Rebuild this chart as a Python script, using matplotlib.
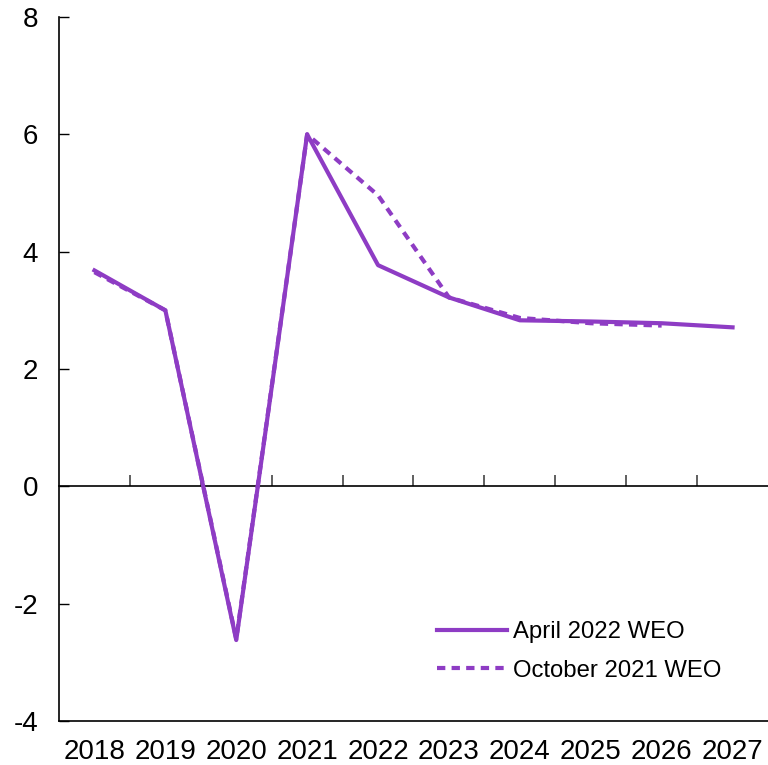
import matplotlib
matplotlib.use("Agg")
import matplotlib.pyplot as plt

years = ["2018", "2019", "2020", "2021", "2022", "2023", "2024", "2025", "2026", "2027"]
april_2022 = [3.68, 3.0, -2.62, 6.0, 3.77, 3.22, 2.83, 2.81, 2.78, 2.71]
october_2021 = [3.65, 3.0, -2.6, 6.0, 4.96, 3.22, 2.87, 2.78, 2.74]
y_ticks = [-4, -2, 0, 2, 4, 6, 8]

color = "#8E3CC4"
plt.rcParams['font.family'] = ['Liberation Sans', 'DejaVu Sans']

fig = plt.figure(figsize=(7.68, 7.65), dpi=100)
ax = fig.add_axes([59/768, 1 - 721/765, 1 - 59/768, (721 - 17)/765])

x_apr = list(range(len(april_2022)))
x_oct = list(range(len(october_2021)))
ax.plot(x_oct, october_2021, color=color, lw=3, dashes=(2, 1.5), label="October 2021 WEO")
ax.plot(x_apr, april_2022, color=color, lw=3, label="April 2022 WEO")

ax.set_xlim(-0.5, len(years) - 0.5)
ax.set_ylim(-4, 8)
ax.set_yticks(y_ticks)
ax.set_yticklabels([str(v) for v in y_ticks])
ax.set_xticks(x_apr)
ax.set_xticklabels(years)

ax.tick_params(axis='x', length=0, pad=13, labelsize=20)
ax.tick_params(axis='y', direction='in', length=7, width=1, pad=15, labelsize=20)
ax.spines['top'].set_visible(False)
ax.spines['right'].set_visible(False)
for s in ['left', 'bottom']:
    ax.spines[s].set_linewidth(1.2)

# zero line with category boundary ticks
sec = ax.secondary_xaxis(4/12)
sec.set_xticks([i + 0.5 for i in range(len(years) - 1)])
sec.set_xticklabels([])
sec.tick_params(axis='x', direction='in', length=8, width=1.2, color='#444444')
sec.spines['bottom'].set_linewidth(1.2)
sec.spines['top'].set_linewidth(1.2)

handles, labels = ax.get_legend_handles_labels()
leg = ax.legend(handles[::-1], labels[::-1], loc='upper left', bbox_to_anchor=(0.533, 0.142),
                frameon=False, fontsize=17.2, handlelength=2.93, handletextpad=0.25,
                labelspacing=0.7, borderpad=0, borderaxespad=0)

fig.savefig("out.png", dpi=100)
